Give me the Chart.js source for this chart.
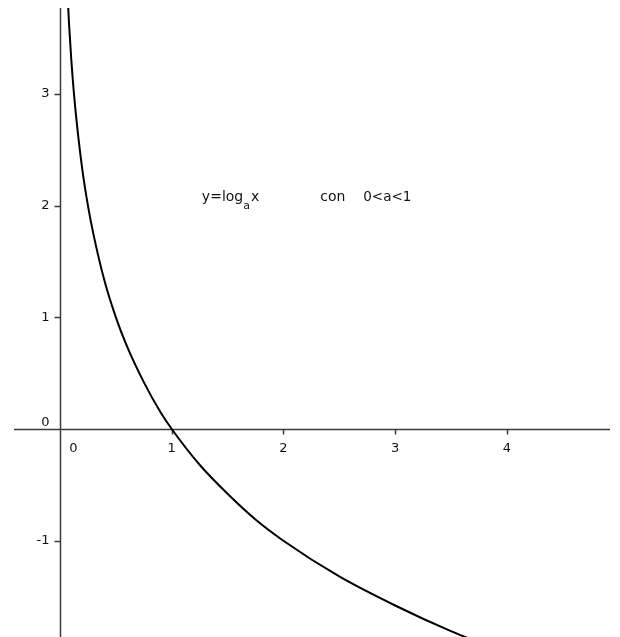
<!DOCTYPE html>
<html>
<head>
<meta charset="utf-8">
<script src="https://cdn.jsdelivr.net/npm/chart.js@4/dist/chart.umd.min.js"></script>
<style>
  html, body { margin: 0; padding: 0; background: #fff; }
  #wrap { width: 620px; height: 637px; }
</style>
</head>
<body>
<div id="wrap"><canvas id="grafico" width="620" height="637"></canvas></div>
<script>
// Datos: y = log_a x con 0<a<1
const curvaX = [0.06, 0.07, 0.08, 0.1, 0.125, 0.15, 0.2, 0.25, 0.3, 0.4, 0.5, 0.6, 0.75, 0.9, 1, 1.25, 1.5, 1.75, 2, 2.5, 3, 3.5, 3.8];
const curvaY = [4.06, 3.84, 3.64, 3.32, 3.0, 2.74, 2.32, 2.0, 1.74, 1.32, 1.0, 0.74, 0.42, 0.15, 0, -0.32, -0.58, -0.81, -1.0, -1.32, -1.58, -1.81, -1.93];

// Marcas de los ejes
const ticksX = [1, 2, 3, 4];
const etiquetasX = ['1', '2', '3', '4'];
const ticksY = [-1, 1, 2, 3];
const etiquetasY = ['-1', '1', '2', '3'];

// Rango visible
const xMin = -0.412, xMax = 4.924;
const yMin = -1.862, yMax = 3.769;

const fuente = '13px "DejaVu Sans", sans-serif';
const colorEje = '#3a3a3a';

// Dibuja los ejes en la posición del cero, estilo GeoGebra
const ejesPlugin = {
  id: 'ejes',
  beforeDatasetsDraw(chart) {
    const { ctx, chartArea, scales } = chart;
    const x0 = Math.round(scales.x.getPixelForValue(0)) + 0.5;
    const y0 = Math.round(scales.y.getPixelForValue(0)) + 0.5;
    ctx.save();
    ctx.strokeStyle = colorEje;
    ctx.lineWidth = 1.5;
    ctx.beginPath();
    ctx.moveTo(chartArea.left, y0);
    ctx.lineTo(chartArea.right, y0);
    ctx.moveTo(x0, chartArea.top);
    ctx.lineTo(x0, chartArea.bottom);
    // marcas del eje x (hacia abajo)
    ticksX.forEach(v => {
      const px = Math.round(scales.x.getPixelForValue(v)) + 0.5;
      ctx.moveTo(px, y0);
      ctx.lineTo(px, y0 + 5);
    });
    // marcas del eje y (hacia la izquierda)
    ticksY.forEach(v => {
      const py = Math.round(scales.y.getPixelForValue(v)) + 0.5;
      ctx.moveTo(x0 - 6, py);
      ctx.lineTo(x0, py);
    });
    ctx.stroke();

    ctx.fillStyle = '#111';
    ctx.font = fuente;
    ctx.textBaseline = 'alphabetic';
    ctx.textAlign = 'center';
    ticksX.forEach((v, i) => {
      ctx.fillText(etiquetasX[i], scales.x.getPixelForValue(v), y0 + 22);
    });
    ctx.fillText('0', x0 + 13, y0 + 22);
    ctx.textAlign = 'right';
    ctx.textBaseline = 'middle';
    ticksY.forEach((v, i) => {
      ctx.fillText(etiquetasY[i], x0 - 11, scales.y.getPixelForValue(v));
    });
    ctx.textBaseline = 'alphabetic';
    ctx.fillText('0', x0 - 11, y0 - 4);
    ctx.restore();
  },
  afterDatasetsDraw(chart) {
    const { ctx, scales } = chart;
    const px = scales.x.getPixelForValue(1.27);
    const py = scales.y.getPixelForValue(2.04);
    ctx.save();
    ctx.fillStyle = '#111';
    ctx.font = '14px "DejaVu Sans", sans-serif';
    ctx.textAlign = 'left';
    ctx.textBaseline = 'alphabetic';
    let x = px;
    ctx.fillText('y=log', x, py);
    x += ctx.measureText('y=log').width;
    ctx.font = '11px "DejaVu Sans", sans-serif';
    ctx.fillText('a', x, py + 8);
    x += ctx.measureText('a').width + 1;
    ctx.font = '14px "DejaVu Sans", sans-serif';
    ctx.fillText('x', x, py);
    const cx = scales.x.getPixelForValue(2.33);
    ctx.fillText('con', cx, py);
    ctx.font = '13.5px "DejaVu Sans", sans-serif';
    ctx.fillText('0<a<1', cx + 43, py);
    ctx.restore();
  }
};

new Chart(document.getElementById('grafico'), {
  type: 'scatter',
  data: {
    datasets: [{
      label: 'y=log_a x',
      data: curvaX.map((x, i) => ({ x: x, y: curvaY[i] })),
      showLine: true,
      borderColor: '#000000',
      borderWidth: 2,
      pointRadius: 0,
      cubicInterpolationMode: 'monotone',
      fill: false,
    }],
  },
  options: {
    responsive: false,
    animation: false,
    layout: { padding: { left: 14, right: 10, top: 8, bottom: 0 } },
    plugins: {
      legend: { display: false },
      tooltip: { enabled: false },
    },
    scales: {
      x: { type: 'linear', min: xMin, max: xMax, display: false },
      y: { type: 'linear', min: yMin, max: yMax, display: false },
    },
  },
  plugins: [ejesPlugin],
});
</script>
</body>
</html>
